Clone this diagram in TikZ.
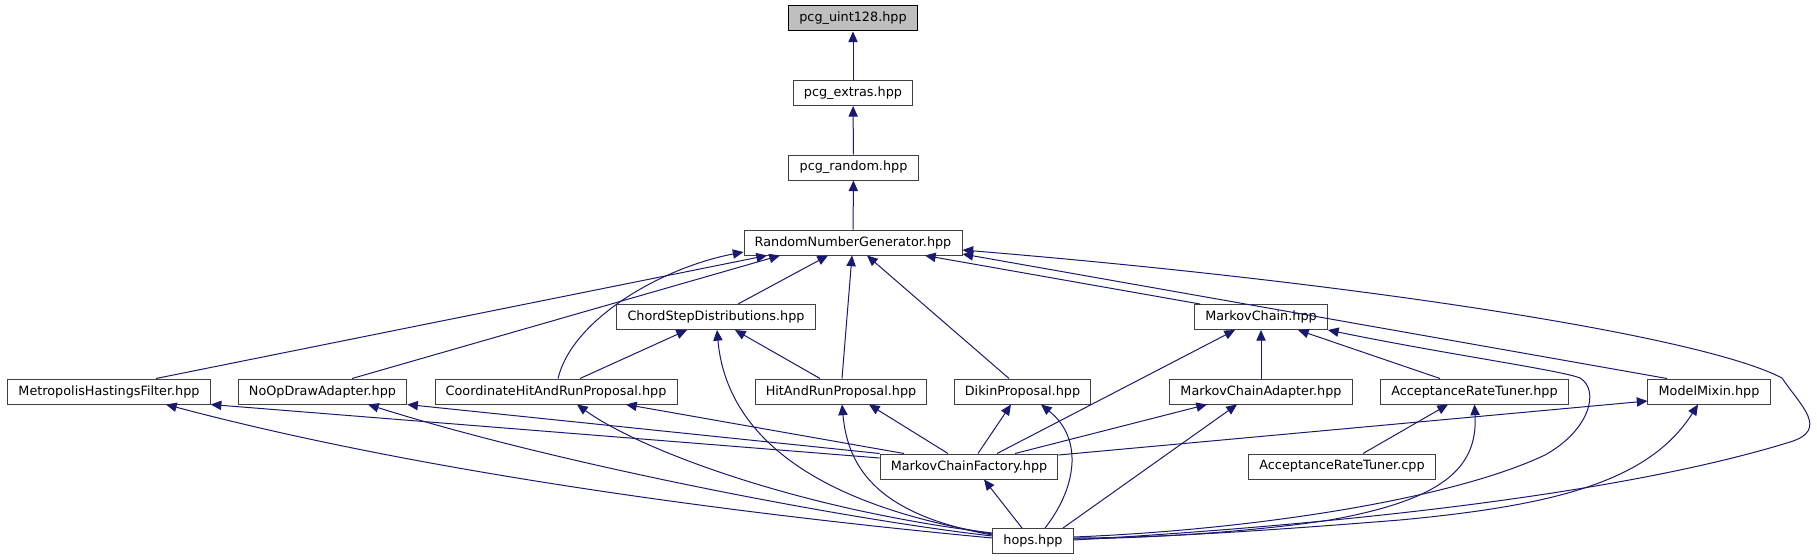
\documentclass[tikz,border=0pt]{standalone}
\usepackage{fontspec}
\setmainfont{DejaVu Sans}
\usepackage{tikz}
\usetikzlibrary{arrows.meta, calc}
\definecolor{edgeblue}{RGB}{25, 25, 112}
\definecolor{rootgrey}{RGB}{191, 191, 191}
\definecolor{boxline}{RGB}{64, 64, 64}

\begin{document}
\begin{tikzpicture}[x=0.75pt, y=-0.75pt,
    file/.style={draw=boxline, fill=white, line width=0.75pt, minimum height=18.75pt,
                 inner xsep=8pt, inner ysep=0pt, font=\fontsize{9.6}{11}\selectfont},
    rootfile/.style={file, draw=black, fill=rootgrey},
    inc/.style={draw=edgeblue, line width=0.75pt, {Triangle[length=8pt, width=7pt]}-}]
    \useasboundingbox (0,0) rectangle (1817,560);

    \node[rootfile] (u128)   at (853,18.5)    {pcg\_uint128.hpp};
    \node[file]     (extras) at (853,93)      {pcg\_extras.hpp};
    \node[file]     (random) at (853.5,167.5) {pcg\_random.hpp};
    \node[file]     (rng)    at (853,242.5)   {RandomNumberGenerator.hpp};
    \node[file]     (chord)  at (716,317)     {ChordStepDistributions.hpp};
    \node[file]     (mc)     at (1261,317)    {MarkovChain.hpp};
    \node[file]     (metro)  at (109,391.5)   {MetropolisHastingsFilter.hpp};
    \node[file]     (noop)   at (322.5,391.5) {NoOpDrawAdapter.hpp};
    \node[file]     (coord)  at (556,391.5)   {CoordinateHitAndRunProposal.hpp};
    \node[file]     (hr)     at (841,391.5)   {HitAndRunProposal.hpp};
    \node[file]     (dikin)  at (1022.5,391.5){DikinProposal.hpp};
    \node[file]     (mca)    at (1261,391.5)  {MarkovChainAdapter.hpp};
    \node[file]     (art)    at (1474.5,391.5){AcceptanceRateTuner.hpp};
    \node[file]     (mixin)  at (1709,391.5)  {ModelMixin.hpp};
    \node[file]     (mcf)    at (969,466.5)   {MarkovChainFactory.hpp};
    \node[file]     (artcpp) at (1342,466.5)  {AcceptanceRateTuner.cpp};
    \node[file]     (hops)   at (1033,541)    {hops.hpp};

    \draw[inc] (u128) -- (extras);
    \draw[inc] (extras) -- (random);
    \draw[inc] (random) -- (rng);

    \draw[inc] ($(rng.south)+(-86,0)$) -- ($(metro.north)+(47,0)$);
    \draw[inc] ($(rng.south)+(-73,0)$) -- ($(noop.north)+(29.5,0)$);
    \draw[inc] ($(rng.west)+(0,9.5)$) .. controls (660,268) and (572,320) .. ($(coord.north)+(2,0)$);
    \draw[inc] ($(rng.south)+(-25,0)$) -- ($(chord.north)+(22,0)$);
    \draw[inc] ($(rng.south)+(-1,0)$) -- ($(hr.north)+(1,0)$);
    \draw[inc] ($(rng.south)+(14,0)$) -- ($(dikin.north)+(-13.5,0)$);
    \draw[inc] ($(rng.south)+(72,0)$) -- ($(mc.north)+(-61,0)$);
    \draw[inc] ($(rng.south east)+(0,-1.5)$) -- ($(mixin.north)+(-42,0)$);
    \draw[inc] ($(rng.east)+(0,7.5)$) .. controls (1350,282) and (1700,335) .. (1782,378)
        .. controls (1800,405) and (1830,430) .. (1790,442)
        .. controls (1700,470) and (1500,515) .. ($(hops.east)+(0,-1)$);

    \draw[inc] ($(chord.south)+(-29,0)$) -- ($(coord.north)+(24,0)$);
    \draw[inc] ($(chord.south)+(19,0)$) -- ($(hr.north)+(-21,0)$);
    \draw[inc] ($(chord.south)+(1,0)$) .. controls (725,420) and (790,500) .. ($(hops.west)+(0,-7)$);

    \draw[inc] (metro.south east) -- ($(mcf.west)+(0,-8.5)$);
    \draw[inc] ($(metro.south)+(57,0)$) .. controls (450,480) and (800,520) .. ($(hops.west)+(0,-3)$);
    \draw[inc] (noop.south east) -- (mcf.north west);
    \draw[inc] ($(noop.south)+(45.5,0)$) .. controls (560,465) and (850,520) .. ($(hops.west)+(0,-5)$);
    \draw[inc] ($(coord.south)+(70,0)$) -- ($(mcf.north)+(-65,0)$);
    \draw[inc] ($(coord.south)+(21,0)$) .. controls (640,450) and (800,510) .. ($(hops.west)+(0,-8)$);
    \draw[inc] ($(hr.south)+(28,0)$) -- ($(mcf.north)+(-21,0)$);
    \draw[inc] ($(hr.south)+(1,0)$) .. controls (848,470) and (880,515) .. ($(hops.west)+(0,-6)$);
    \draw[inc] ($(dikin.south)+(-11.5,0)$) -- ($(mcf.north)+(9,0)$);
    \draw[inc] ($(dikin.south)+(18.5,0)$) .. controls (1085,440) and (1075,490) .. ($(hops.north)+(12,0)$);

    \draw[inc] ($(mc.south)+(-26,0)$) -- ($(mcf.north)+(28,0)$);
    \draw[inc] (mc) -- (mca);
    \draw[inc] ($(mc.south)+(37,0)$) -- ($(art.north)+(-34.5,0)$);
    \draw[inc] (mc.south east) .. controls (1450,355) and (1560,370) .. (1580,378)
        .. controls (1600,390) and (1590,430) .. (1545,455)
        .. controls (1450,500) and (1250,530) .. ($(hops.east)+(0,-4)$);
    \draw[inc] ($(mca.south)+(-54,0)$) -- ($(mcf.north)+(46,0)$);
    \draw[inc] ($(mca.south)+(-24,0)$) -- ($(hops.north)+(30,0)$);
    \draw[inc] ($(art.south)+(-26.5,0)$) -- ($(artcpp.north)+(21,0)$);
    \draw[inc] (art.south) .. controls (1478,470) and (1440,500) .. (1330,520)
        .. controls (1250,532) and (1150,538) .. ($(hops.east)+(0,-2)$);
    \draw[inc] ($(mixin.west)+(0,9.5)$) -- ($(mcf.east)+(0,-11.5)$);
    \draw[inc] ($(mixin.south)+(-11,0)$) .. controls (1650,480) and (1560,505) .. (1400,520)
        .. controls (1250,532) and (1150,538) .. ($(hops.east)+(0,-3)$);
    \draw[inc] ($(mcf.south)+(15,0)$) -- ($(hops.north)+(-11,0)$);
\end{tikzpicture}
\end{document}
